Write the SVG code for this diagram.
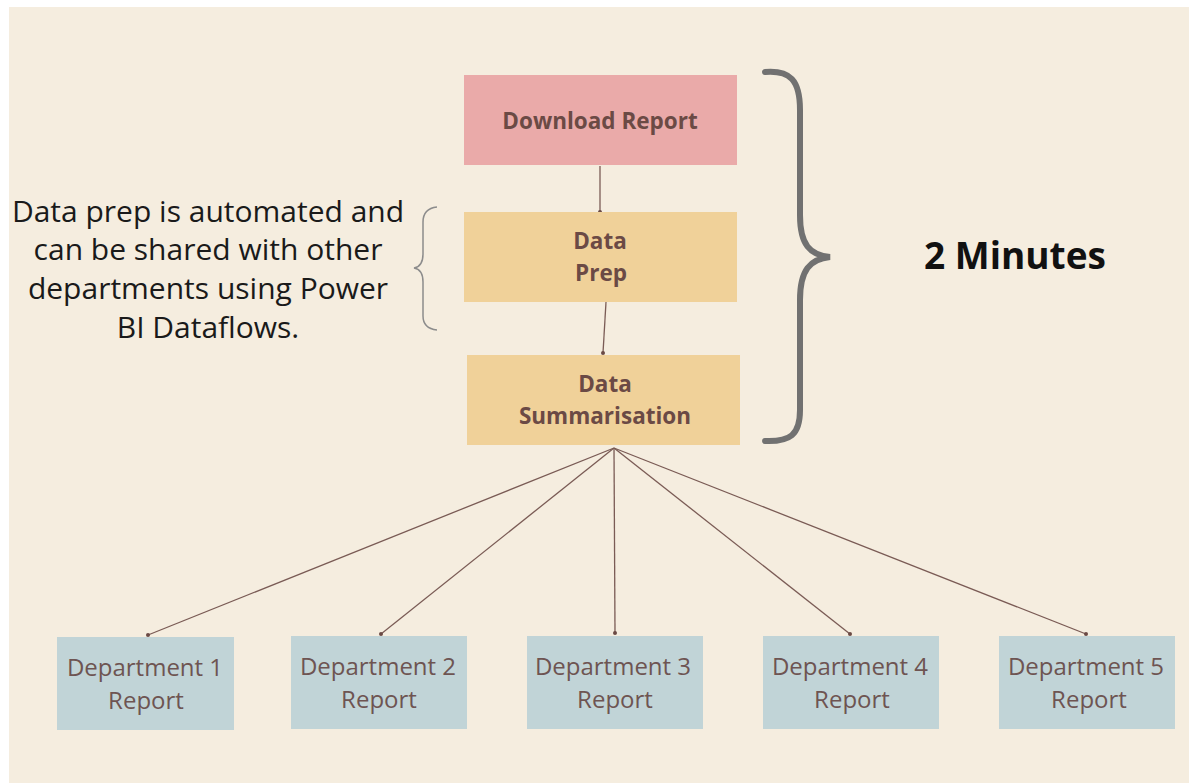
<svg xmlns="http://www.w3.org/2000/svg" width="1189" height="783" viewBox="0 0 1189 783">
<defs>
<style>
.bg{fill:#F5EDDF}
.box-red{fill:#EAAAA9}
.box-yel{fill:#F0D199}
.box-blue{fill:#C1D4D7}
.t-bold{font-family:"Open Sans","Liberation Sans",sans-serif;font-weight:bold;font-size:22.5px;fill:#6B4A45;text-anchor:middle}
.t-dept{font-family:"Open Sans","Liberation Sans",sans-serif;font-size:24px;fill:#6E5452;text-anchor:middle}
.t-note{font-family:"Open Sans","Liberation Sans",sans-serif;font-size:30px;fill:#1A1A1A;text-anchor:middle}
.t-big{font-family:"Open Sans","Liberation Sans",sans-serif;font-weight:bold;font-size:37px;fill:#111;}
.conn{stroke:#7A5B55;stroke-width:1.3;fill:none}
.dot{fill:#6B4A45}
</style>
</defs>
<rect x="0" y="0" width="1189" height="783" fill="#FFFFFF"/>
<rect class="bg" x="9" y="7" width="1180" height="776"/>

<g id="connectors">
<line class="conn" x1="600" y1="166" x2="600" y2="212"/>
<circle class="dot" cx="600" cy="212" r="2"/>
<line class="conn" x1="606" y1="302" x2="603" y2="353"/>
<circle class="dot" cx="603" cy="353" r="2"/>
<line class="conn" x1="614" y1="448" x2="148" y2="635"/>
<line class="conn" x1="614" y1="448" x2="381" y2="634"/>
<line class="conn" x1="614" y1="448" x2="615" y2="633"/>
<line class="conn" x1="614" y1="448" x2="850" y2="634"/>
<line class="conn" x1="614" y1="448" x2="1086" y2="634"/>
<circle class="dot" cx="148" cy="635" r="2"/>
<circle class="dot" cx="381" cy="634" r="2"/>
<circle class="dot" cx="615" cy="633" r="2"/>
<circle class="dot" cx="850" cy="634" r="2"/>
<circle class="dot" cx="1086" cy="634" r="2"/>
</g>

<g id="download-report">
<rect class="box-red" x="464" y="75" width="273" height="90"/>
<text class="t-bold" x="600" y="129">Download Report</text>
</g>
<g id="data-prep">
<rect class="box-yel" x="464" y="212" width="273" height="90"/>
<text class="t-bold" x="600" y="249">Data</text>
<text class="t-bold" x="601" y="281">Prep</text>
</g>
<g id="data-summarisation">
<rect class="box-yel" x="467" y="355" width="273" height="90"/>
<text class="t-bold" x="605" y="392">Data</text>
<text class="t-bold" x="605" y="424">Summarisation</text>
</g>

<g id="dept1">
<rect class="box-blue" x="57" y="637" width="177" height="93"/>
<text class="t-dept" x="145" y="676">Department 1</text>
<text class="t-dept" x="146" y="709">Report</text>
</g>
<g id="dept2">
<rect class="box-blue" x="291" y="636" width="176" height="93"/>
<text class="t-dept" x="378" y="675">Department 2</text>
<text class="t-dept" x="379" y="708">Report</text>
</g>
<g id="dept3">
<rect class="box-blue" x="527" y="636" width="176" height="93"/>
<text class="t-dept" x="613" y="675">Department 3</text>
<text class="t-dept" x="615" y="708">Report</text>
</g>
<g id="dept4">
<rect class="box-blue" x="763" y="636" width="176" height="93"/>
<text class="t-dept" x="850" y="675">Department 4</text>
<text class="t-dept" x="852" y="708">Report</text>
</g>
<g id="dept5">
<rect class="box-blue" x="999" y="636" width="176" height="93"/>
<text class="t-dept" x="1086" y="675">Department 5</text>
<text class="t-dept" x="1089" y="708">Report</text>
</g>

<g id="big-brace">
<path d="M765,72 C790,70 800,80 800,110 L800,215 C800,245 810,255 830,257 C810,259 800,270 800,300 L800,410 C800,435 790,442 765,441" fill="none" stroke="#717171" stroke-width="6" stroke-linecap="round"/>
</g>
<g id="small-brace">
<path d="M437,207 C428,208 423,212 423,222 L423,254 C423,262 420,267 414,268 C420,269 423,274 423,282 L423,316 C423,325 428,329 437,330" fill="none" stroke="#8C8C8C" stroke-width="1.5"/>
</g>

<g id="note">
<text class="t-note" x="208" y="222">Data prep is automated and</text>
<text class="t-note" x="208" y="260">can be shared with other</text>
<text class="t-note" x="208" y="299">departments using Power</text>
<text class="t-note" x="208" y="338">BI Dataflows.</text>
</g>
<g id="duration">
<text class="t-big" x="924" y="269">2 Minutes</text>
</g>
</svg>
